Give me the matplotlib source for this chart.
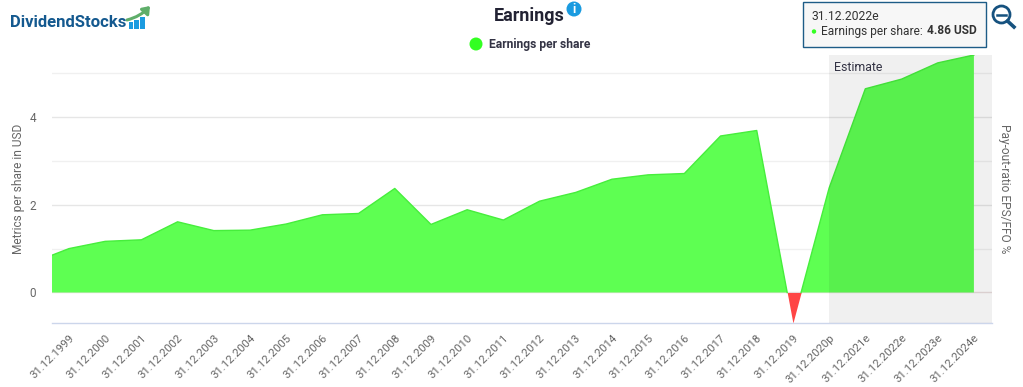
import numpy as np
import matplotlib
matplotlib.use("Agg")
import matplotlib.pyplot as plt
from matplotlib.patches import Rectangle, Circle, FancyArrowPatch
from matplotlib.lines import Line2D

plt.rcParams['font.family'] = ['Roboto', 'DejaVu Sans']

W, H = 1023, 387

dates = ["31.12.1999", "31.12.2000", "31.12.2001", "31.12.2002", "31.12.2003",
         "31.12.2004", "31.12.2005", "31.12.2006", "31.12.2007", "31.12.2008",
         "31.12.2009", "31.12.2010", "31.12.2011", "31.12.2012", "31.12.2013",
         "31.12.2014", "31.12.2015", "31.12.2016", "31.12.2017", "31.12.2018",
         "31.12.2019", "31.12.2020p", "31.12.2021e", "31.12.2022e", "31.12.2023e",
         "31.12.2024e"]
eps = [1.00, 1.165, 1.20, 1.61, 1.41, 1.42, 1.56, 1.77, 1.80, 2.37,
       1.55, 1.885, 1.65, 2.08, 2.28, 2.58, 2.68, 2.71, 3.565, 3.69,
       -0.695, 2.38, 4.64, 4.86, 5.23, 5.41]
# the series runs on to the left of the first label, 1998 is cut off
eps_before = 0.68

y_ticks = [0, 2, 4]
grid_major = [2, 4]
grid_minor = [1, 3, 5]
estimate_from = 21

fig = plt.figure(figsize=(W / 100, H / 100), dpi=100)
ax = fig.add_axes([52 / W, 1 - 323 / H, (992 - 52) / W, (323 - 55) / H])

xs = np.arange(-1, len(eps))
ys = np.array([eps_before] + eps)

# split at zero so the negative part gets its own colour
xf, yf = [], []
for i in range(len(xs) - 1):
    xf.append(xs[i])
    yf.append(ys[i])
    if ys[i] * ys[i + 1] < 0:
        xf.append(xs[i] + (xs[i + 1] - xs[i]) * ys[i] / (ys[i] - ys[i + 1]))
        yf.append(0)
xf.append(xs[-1])
yf.append(ys[-1])
xf, yf = np.array(xf), np.array(yf)

for v in grid_major:
    ax.axhline(v, color="#e6e6e6", lw=1, zorder=1)
for v in grid_minor:
    ax.axhline(v, color="#f0f0f0", lw=1, zorder=1)
ax.axhline(0, color="#e8dcdc", lw=1, zorder=1)
ax.fill_between(xf, 0, yf, where=yf >= 0, color="#5eff52", lw=0, zorder=2)
ax.fill_between(xf, 0, yf, where=yf <= 0, color="#ff4545", lw=0, zorder=2)
ax.plot(xf, np.where(yf >= 0, yf, np.nan), color="#46ee3c", lw=1, zorder=3)

ax.axvspan(estimate_from, 25.497, color="black", alpha=0.06, lw=0, zorder=4)
ax.text(estimate_from + 0.13, 5.05, "Estimate", fontsize=8.9, color="#333344", zorder=5)

ax.set_xlim(-0.47, 25.5)
ax.set_ylim(-0.695, 5.41)
ax.set_xticks(np.arange(len(dates)))
ax.set_xticklabels(dates, rotation=45, ha="right", rotation_mode="anchor",
                   fontsize=8.2, color="#666666")
ax.set_yticks(y_ticks)
ax.set_yticklabels([str(v) for v in y_ticks], fontsize=8.5, color="#666666")
ax.tick_params(axis="both", length=0)
ax.tick_params(axis="x", pad=7)
ax.tick_params(axis="y", pad=11.5)
for s in ["top", "left", "right"]:
    ax.spines[s].set_visible(False)
ax.spines["bottom"].set_color("#ccd6eb")
ax.spines["bottom"].set_linewidth(1)

overlay = fig.add_axes([0, 0, 1, 1], facecolor="none")
overlay.set_xlim(0, W)
overlay.set_ylim(H, 0)
overlay.axis("off")

overlay.text(19, 189, "Metrics per share in USD", rotation=90, fontsize=8.6,
             color="#666666", ha="center", va="center")
overlay.text(1005, 189, "Pay-out-ratio EPS/FFO %", rotation=270, fontsize=8.6,
             color="#666666", ha="center", va="center")

# title and legend
overlay.text(529.5, 16, "Earnings", fontsize=13, fontweight="bold", color="#222233",
             ha="center", va="center")
overlay.add_patch(Circle((574, 9), 7.5, color="#1a9be0", lw=0))
overlay.text(574, 9.5, "i", color="white", fontsize=9, fontweight="bold",
             ha="center", va="center")
overlay.add_patch(Circle((476, 44), 6.5, color="#33ff22", lw=0))
overlay.text(489, 44.5, "Earnings per share", fontsize=8.7, fontweight="bold",
             color="#333344", ha="left", va="center")

# logo
overlay.text(10, 22.5, "DividendStocks", fontsize=12, fontweight="bold",
             color="#14598f", ha="left", va="center")
for bx, bt in zip([128.5, 134, 140], [22, 20, 17]):
    overlay.add_patch(Rectangle((bx, bt), 4.5, 29 - bt, color="#1b9be0", lw=0))
overlay.add_patch(FancyArrowPatch((127, 20), (150, 6), connectionstyle="arc3,rad=0.15",
                                  arrowstyle="-|>,head_width=3,head_length=4",
                                  color="#5fae6a", lw=2.2, shrinkA=0, shrinkB=0))

# tooltip
overlay.add_patch(Rectangle((802.5, 1.5), 183, 45, facecolor="#f7f7f7", edgecolor="#1d5c87", lw=1))
overlay.text(811, 16, "31.12.2022e", fontsize=8.7, color="#333333", ha="left", va="center")
overlay.add_patch(Circle((814, 31.5), 2.2, color="#33ff22", lw=0))
overlay.text(821, 31, "Earnings per share:", fontsize=8.6, color="#333333", ha="left", va="center")
overlay.text(927, 31, "4.86 USD", fontsize=8.6, fontweight="bold", color="#333333",
             ha="left", va="center")

# zoom icon
overlay.add_patch(Circle((1001.5, 14.5), 8.5, facecolor="none", edgecolor="#16527f", lw=2))
overlay.add_line(Line2D([997, 1006], [14.5, 14.5], color="#16527f", lw=1.8))
overlay.add_line(Line2D([1007.5, 1014], [21, 27], color="#16527f", lw=2.6))

plt.savefig("out.png", dpi=100)
